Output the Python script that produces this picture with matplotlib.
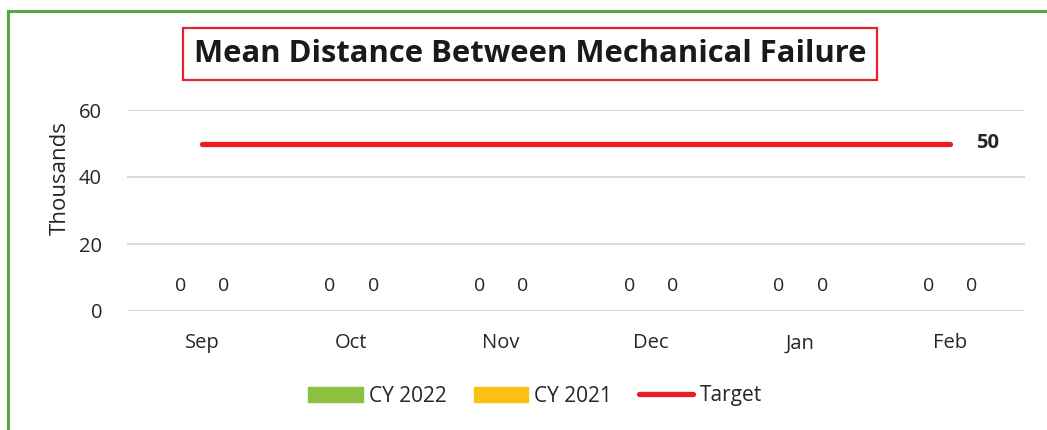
import matplotlib.pyplot as plt
from matplotlib.patches import Patch
from matplotlib.lines import Line2D
import numpy as np

# data
months = ['Sep', 'Oct', 'Nov', 'Dec', 'Jan', 'Feb']
cy2022 = [0, 0, 0, 0, 0, 0]
cy2021 = [0, 0, 0, 0, 0, 0]
target = [50, 50, 50, 50, 50, 50]

green = '#8cc13f'
yellow = '#fdbf14'
red = '#ed1c24'

plt.rcParams['font.family'] = ['Open Sans', 'DejaVu Sans']

fig = plt.figure(figsize=(10.47, 4.30), dpi=100)
ax = fig.add_axes([127 / 1047, 1 - 311 / 430, 898 / 1047, 201 / 430])

x = np.arange(len(months))
w = 0.29
ax.bar(x - w / 2, cy2022, w, color=green)
ax.bar(x + w / 2, cy2021, w, color=yellow)
ax.plot(x, target, color=red, lw=3.8, solid_capstyle='round')

for i in range(len(months)):
    ax.annotate(str(cy2022[i]), (x[i] - w / 2, cy2022[i]), xytext=(0, 18),
                textcoords='offset points', ha='center', va='center',
                fontsize=14, color='#262626')
    ax.annotate(str(cy2021[i]), (x[i] + w / 2, cy2021[i]), xytext=(0, 18),
                textcoords='offset points', ha='center', va='center',
                fontsize=14, color='#262626')
ax.annotate(str(target[-1]), (x[-1], target[-1]), xytext=(27, 0),
            textcoords='offset points', ha='center', va='center',
            fontsize=14.5, fontweight='bold', color='#262626')

ax.set_xlim(-0.5, len(months) - 0.5)
ax.set_ylim(0, 60)
ax.set_yticks([0, 20, 40, 60])
ax.set_xticks(x)
ax.set_xticklabels(months)
ax.tick_params(axis='both', length=0, labelsize=14.5, colors='#262626')
ax.tick_params(axis='x', pad=16)
ax.tick_params(axis='y', pad=18)
ax.grid(axis='y', color='#d9d9d9', lw=1.3)
ax.set_axisbelow(True)
for s in ax.spines.values():
    s.set_visible(False)
ax.set_ylabel('Thousands', fontsize=16, color='#262626')
ax.yaxis.set_label_coords(-0.0625, 0.66)

fig.text(530 / 1047, 1 - 54 / 430, 'Mean Distance Between Mechanical Failure',
         ha='center', va='center', fontsize=22.3, fontweight='bold', color='#1a1a1a',
         bbox=dict(boxstyle='square,pad=0.34', fc='white', ec='#e8202a', lw=1.6))

handles = [Patch(color=green, label='CY 2022'),
           Patch(color=yellow, label='CY 2021'),
           Line2D([0], [0], color=red, lw=3.8, solid_capstyle='round', label='Target')]
fig.legend(handles=handles, loc='center', bbox_to_anchor=(535 / 1047, 1 - 396 / 430),
           ncol=3, frameon=False, fontsize=15, handlelength=2.6, handleheight=0.75,
           handletextpad=0.3, columnspacing=1.3, labelcolor='#262626')

# green frame (left and top edges visible)
fig.add_artist(Line2D([8 / 1047, 8 / 1047], [0, 1 - 11 / 430], color='#55a846', lw=2.2,
                      transform=fig.transFigure))
fig.add_artist(Line2D([8 / 1047, 1], [1 - 11 / 430, 1 - 11 / 430], color='#55a846', lw=2.2,
                      transform=fig.transFigure))

plt.savefig('out.png', dpi=100)
